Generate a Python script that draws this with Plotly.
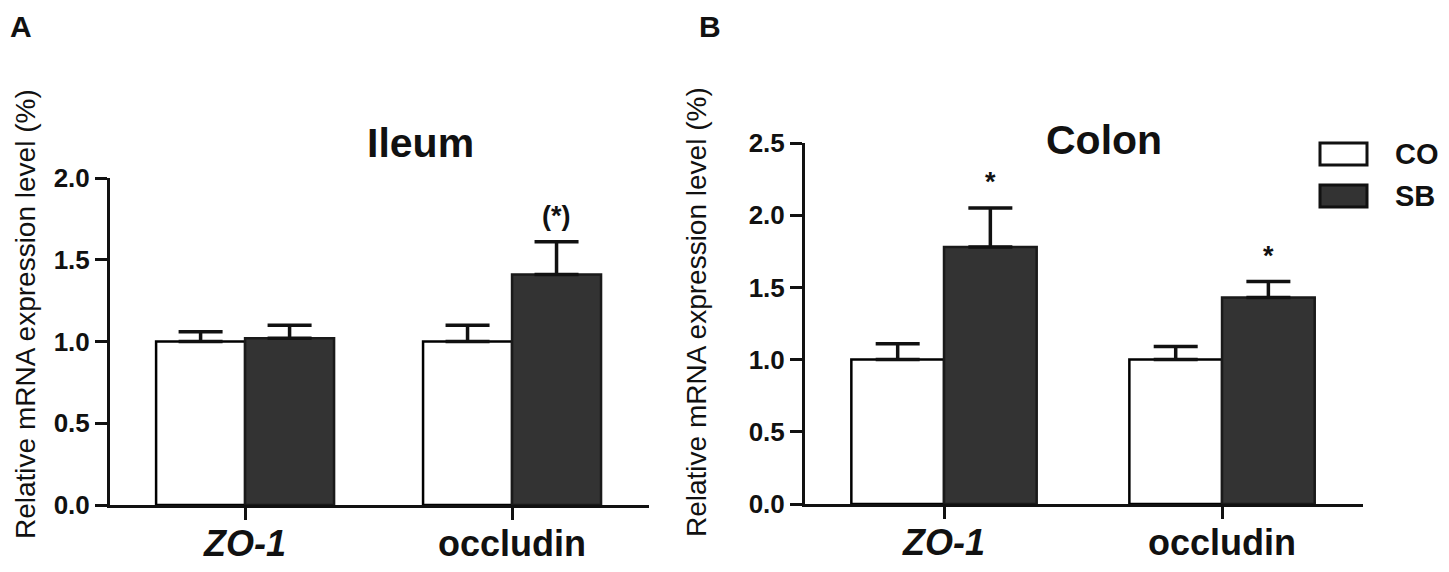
import plotly.graph_objects as go
from plotly.subplots import make_subplots

# data
genes = ["ZO-1", "occludin"]
gene_labels = ["<i>ZO-1</i>", "occludin"]
groups = ["CO", "SB"]

ileum_co = [1.00, 1.00]
ileum_co_err = [0.06, 0.10]
ileum_sb = [1.02, 1.41]
ileum_sb_err = [0.08, 0.20]
ileum_marks = ["", "(*)"]

colon_co = [1.00, 1.00]
colon_co_err = [0.11, 0.09]
colon_sb = [1.78, 1.43]
colon_sb_err = [0.27, 0.11]
colon_marks = ["*", "*"]

FONT = "Liberation Sans"
W, H = 1449, 572
PAD = 8  # page body margin, the figure lands 8px right/down in the shot
fill = {"CO": "#ffffff", "SB": "#333333"}
edge = {"CO": "#000000", "SB": "#1a1a1a"}


def fx(px):
    return max(px - PAD, 0) / W


def fy(py):
    return 1 - max(py - PAD, 0) / H


fig = make_subplots(rows=1, cols=2)


def err(e):
    return dict(type="data", array=e, arrayminus=[0] * len(e), symmetric=False,
                color="#111111", thickness=3.5, width=22)


panels = [
    (1, ileum_co, ileum_co_err, ileum_sb, ileum_sb_err, ileum_marks),
    (2, colon_co, colon_co_err, colon_sb, colon_sb_err, colon_marks),
]
for col, co, co_e, sb, sb_e, marks in panels:
    for name, vals, e in [("CO", co, co_e), ("SB", sb, sb_e)]:
        fig.add_trace(go.Bar(x=genes, y=vals, name=name, error_y=err(e),
                             marker=dict(color=fill[name],
                                         line=dict(color=edge[name], width=2.5)),
                             showlegend=False),
                      row=1, col=col)
    xref = "x" if col == 1 else "x2"
    yref = "y" if col == 1 else "y2"
    for i, m in enumerate(marks):
        if m:
            fig.add_annotation(x=i + 1 / 6, y=sb[i] + sb_e[i], xref=xref, yref=yref,
                               text=m, showarrow=False, yanchor="middle", yshift=26,
                               font=dict(family=FONT, size=27, color="#111111",
                                         weight="bold"))

axis_common = dict(showline=True, linewidth=3, linecolor="#111111", ticks="outside",
                   ticklen=12, tickwidth=3, tickcolor="#111111", showgrid=False,
                   zeroline=False, automargin=False)

fig.update_xaxes(**axis_common, tickvals=genes, ticktext=gene_labels,
                 ticklabelstandoff=-7,
                 tickfont=dict(family=FONT, size=36, color="#111111", weight="bold"))
fig.update_yaxes(**axis_common, dtick=0.5, tickformat=".1f",
                 tickfont=dict(family=FONT, size=26, color="#111111", weight="bold"))

fig.update_layout(
    xaxis=dict(domain=[fx(110), fx(649)], range=[-0.506, 1.513]),
    yaxis=dict(domain=[fy(505), fy(178)], range=[0, 2.0]),
    xaxis2=dict(domain=[fx(805), fx(1363)], range=[-0.5, 1.507]),
    yaxis2=dict(domain=[fy(504), fy(143)], range=[0, 2.5]),
    barmode="group", bargap=1 / 3, bargroupgap=0,
    width=W, height=H, margin=dict(l=0, r=0, t=0, b=0),
    plot_bgcolor="white", paper_bgcolor="white", showlegend=False,
)

# titles, panel letters, axis titles
texts = [
    ("Ileum", 420, 143, 41, "bold", 0, "center", "middle"),
    ("Colon", 1104, 140, 41, "bold", 0, "center", "middle"),
    ("A", 8, 8, 30, "bold", 0, "left", "top"),
    ("B", 697, 8, 30, "bold", 0, "left", "top"),
    ("Relative mRNA expression level (%)", 25, 314, 28, "normal", -90,
     "center", "middle"),
    ("Relative mRNA expression level (%)", 696, 312, 28, "normal", -90,
     "center", "middle"),
]
for t, x, y, size, weight, angle, xa, ya in texts:
    fig.add_annotation(text=t, x=fx(x), y=fy(y), xref="paper", yref="paper",
                       showarrow=False, textangle=angle, xanchor=xa, yanchor=ya,
                       font=dict(family=FONT, size=size, color="#111111", weight=weight))

# legend drawn as boxes + labels
legend_rows = [(143, 165), (185, 207)]
for name, (top, bottom) in zip(groups, legend_rows):
    fig.add_shape(type="rect", xref="paper", yref="paper",
                  x0=fx(1320), x1=fx(1367), y0=fy(bottom), y1=fy(top),
                  fillcolor=fill[name], line=dict(color="#111111", width=3))
    fig.add_annotation(text=name, x=fx(1393), y=fy((top + bottom) / 2),
                       xref="paper", yref="paper", showarrow=False,
                       xanchor="left", yanchor="middle",
                       font=dict(family=FONT, size=29, color="#111111", weight="bold"))

fig.write_html("out.html")
